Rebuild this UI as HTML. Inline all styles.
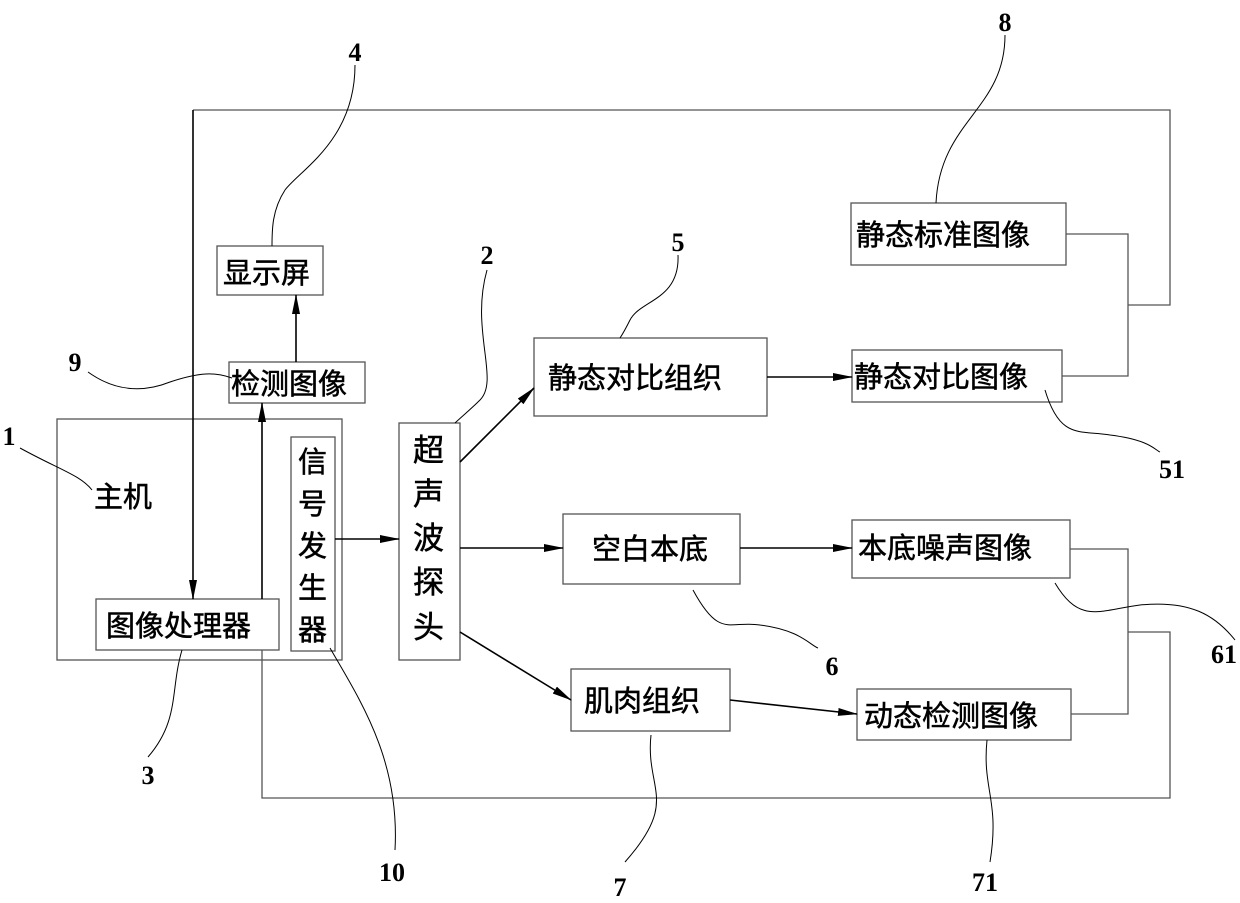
<!DOCTYPE html>
<html><head><meta charset="utf-8"><style>
html,body{margin:0;padding:0;background:#fff}
svg{display:block}
.t{font-family:"Liberation Sans","Noto Sans CJK SC",sans-serif;font-size:29px;fill:#000;stroke:#000;stroke-width:0.5}
.n{font-family:"Liberation Serif",serif;font-size:26px;font-weight:bold;fill:#000;text-anchor:middle}
</style></head><body>
<svg width="1240" height="903" viewBox="0 0 1240 903" xmlns="http://www.w3.org/2000/svg">
<defs><marker id="a" markerWidth="20" markerHeight="10" refX="19" refY="5" orient="auto" markerUnits="userSpaceOnUse"><path d="M0,1 L20,5 L0,9 Z" fill="#000"/></marker></defs>
<g fill="none" stroke="#555" stroke-width="1.3">
<rect x="217" y="246" width="106" height="49"/>
<rect x="229" y="362" width="136" height="41"/>
<rect x="57" y="419" width="285" height="241"/>
<rect x="291" y="437" width="44" height="214"/>
<rect x="399" y="423" width="61" height="237"/>
<rect x="96" y="599" width="183" height="51"/>
<rect x="851" y="203" width="215" height="62"/>
<rect x="534" y="338" width="233" height="78"/>
<rect x="852" y="350" width="210" height="52"/>
<rect x="563" y="514" width="177" height="70"/>
<rect x="852" y="520" width="218" height="58"/>
<rect x="571" y="669" width="159" height="62"/>
<rect x="857" y="689" width="214" height="51"/>
<polyline points="1066,234 1128,234 1128,376 1062,376"/>
<polyline points="1128,305 1170,305 1170,110 193,110"/>
<polyline points="1070,549 1128,549 1128,714 1071,714"/>
<polyline points="1128,632 1170,632 1170,798 262,798 262,650"/>
</g>
<g stroke="#000" stroke-width="1.6" fill="none">
<line x1="193" y1="110" x2="193" y2="599" marker-end="url(#a)"/>
<line x1="262" y1="599" x2="262" y2="403" marker-end="url(#a)"/>
<line x1="296" y1="362" x2="296" y2="295" marker-end="url(#a)"/>
<line x1="335" y1="539" x2="399" y2="539" marker-end="url(#a)"/>
<line x1="460" y1="462" x2="534" y2="388" marker-end="url(#a)"/>
<line x1="460" y1="548" x2="563" y2="548" marker-end="url(#a)"/>
<line x1="460" y1="632" x2="571" y2="700" marker-end="url(#a)"/>
<line x1="767" y1="377" x2="852" y2="377" marker-end="url(#a)"/>
<line x1="740" y1="548" x2="852" y2="548" marker-end="url(#a)"/>
<line x1="730" y1="700" x2="857" y2="714" marker-end="url(#a)"/>
</g>
<g stroke="#000" stroke-width="1" fill="none">
<path d="M355,65 C355,140 300,170 285,190 C272,210 272,230 272,246"/>
<path d="M1005,35 C1005,110 940,120 936,203"/>
<path d="M487,270 C470,330 500,380 480,400 C470,410 460,418 455,423"/>
<path d="M678,255 C680,300 640,300 630,320 C625,330 622,335 620,338"/>
<path d="M88,372 C120,395 150,390 170,382 C200,372 215,372 232,378"/>
<path d="M20,448 C60,470 80,475 92,490"/>
<path d="M1045,390 C1060,440 1080,430 1110,435 C1150,440 1155,450 1160,452"/>
<path d="M1055,583 C1080,625 1100,610 1140,605 C1190,600 1215,615 1235,640"/>
<path d="M693,590 C720,640 730,620 760,625 C800,630 810,645 818,648"/>
<path d="M651,735 C645,790 680,800 625,862"/>
<path d="M987,740 C982,790 1000,800 990,862"/>
<path d="M330,648 C360,700 400,760 395,850"/>
<path d="M182,650 C170,690 180,720 148,757"/>
</g>
<text class="t" x="223" y="283">显示屏</text>
<text class="t" x="231" y="394">检测图像</text>
<text class="t" x="94" y="507">主机</text>
<g class="t"><text x="298" y="472">信</text><text x="298" y="514">号</text><text x="298" y="556">发</text><text x="298" y="598">生</text><text x="298" y="640">器</text></g>
<g class="t" style="font-size:31px"><text x="413" y="461">超</text><text x="413" y="505">声</text><text x="413" y="549">波</text><text x="413" y="593">探</text><text x="413" y="638">头</text></g>
<text class="t" x="106" y="636">图像处理器</text>
<text class="t" x="856" y="245">静态标准图像</text>
<text class="t" x="548" y="388">静态对比组织</text>
<text class="t" x="854" y="387">静态对比图像</text>
<text class="t" x="592" y="559">空白本底</text>
<text class="t" x="858" y="558">本底噪声图像</text>
<text class="t" x="584" y="711">肌肉组织</text>
<text class="t" x="864" y="726">动态检测图像</text>
<text class="n" x="355" y="61">4</text>
<text class="n" x="1005" y="31">8</text>
<text class="n" x="487" y="264">2</text>
<text class="n" x="678" y="251">5</text>
<text class="n" x="75" y="371">9</text>
<text class="n" x="9" y="445">1</text>
<text class="n" x="1172" y="478">51</text>
<text class="n" x="1224" y="663">61</text>
<text class="n" x="832" y="675">6</text>
<text class="n" x="620" y="896">7</text>
<text class="n" x="985" y="891">71</text>
<text class="n" x="392" y="881">10</text>
<text class="n" x="148" y="784">3</text>
</svg>
</body></html>
